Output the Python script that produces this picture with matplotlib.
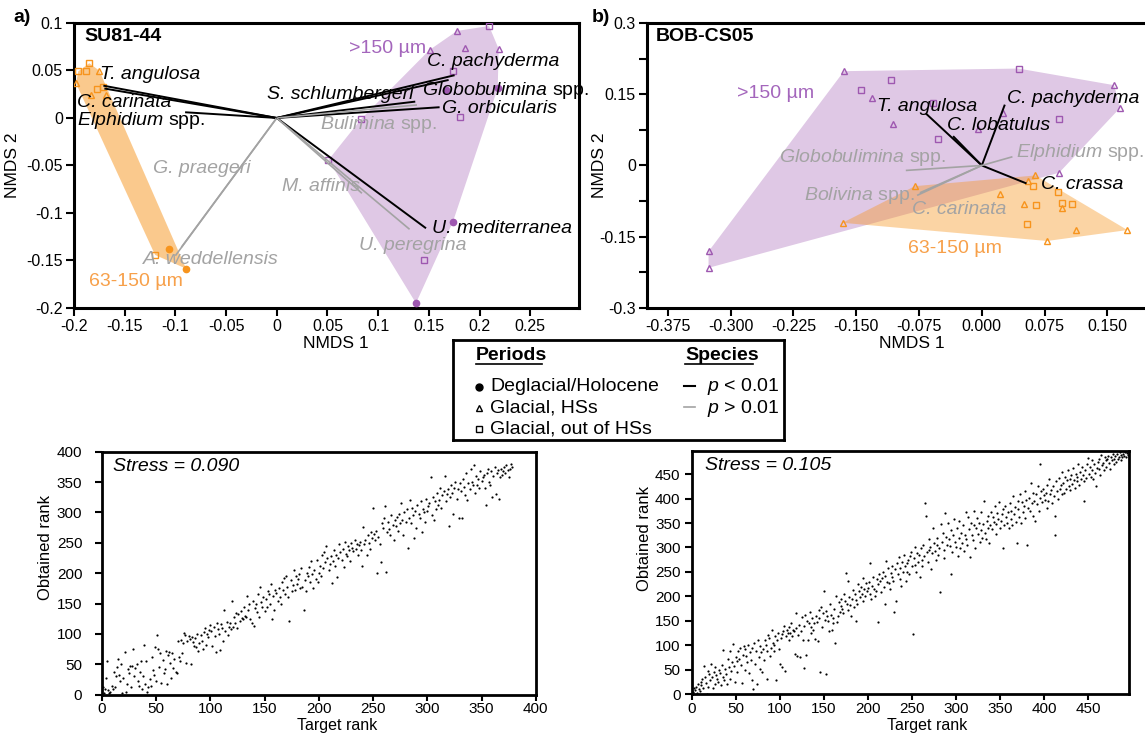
import numpy as np
import matplotlib
matplotlib.use("Agg")
import matplotlib.pyplot as plt

plt.rcParams["font.family"] = ["Liberation Sans", "DejaVu Sans"]
plt.rcParams["mathtext.fontset"] = "custom"
plt.rcParams["mathtext.rm"] = "Liberation Sans"
plt.rcParams["mathtext.it"] = "Liberation Sans:italic"
plt.rcParams["mathtext.bf"] = "Liberation Sans:bold"

ORANGE = "#F7941D"
PURPLE = "#9E58B0"
GREY = "#A3A3A3"

# ---------------- SU81-44 site scores ----------------
# 63-150 um fraction
su_small_hol_x = [-0.1059, -0.0894]
su_small_hol_y = [-0.1382, -0.1586]
su_small_hs_x = [-0.175, -0.198, -0.1835, -0.1684]
su_small_hs_y = [0.0498, 0.0365, 0.0242, 0.0242]
su_small_out_x = [-0.1849, -0.1957, -0.1882, -0.1776, -0.1711, -0.12]
su_small_out_y = [0.0576, 0.0491, 0.0491, 0.0302, 0.0323, -0.1442]
# >150 um fraction
su_large_hol_x = [0.167, 0.2179, 0.1738, 0.1373]
su_large_hol_y = [0.0295, 0.0313, -0.1091, -0.195]
su_large_hs_x = [0.1778, 0.1507, 0.186, 0.2189]
su_large_hs_y = [0.0916, 0.0716, 0.074, 0.0726]
su_large_out_x = [0.2094, 0.1738, 0.181, 0.0833, 0.051, 0.1448]
su_large_out_y = [0.0968, 0.0495, 0.0014, -0.001, -0.0442, -0.150]

# SU81-44 species vectors
su_species = ["T. angulosa", "C. carinata", "Elphidium spp.", "G. praegeri",
              "A. weddellensis", "S. schlumbergeri", "C. pachyderma",
              "Globobulimina spp.", "G. orbicularis", "Bulimina spp.",
              "M. affinis", "U. mediterranea", "U. peregrina"]
su_spec_x = [-0.171, -0.170, -0.0904, -0.094, -0.100, 0.1366, 0.1754,
             0.1695, 0.1606, 0.1383, 0.084, 0.1472, 0.131]
su_spec_y = [0.034, 0.031, 0.006, -0.136, -0.145, 0.0172, 0.045,
             0.040, 0.0113, 0.0137, -0.0793, -0.1161, -0.1172]
su_spec_sig = [1, 1, 1, 0, 0, 1, 1, 1, 1, 0, 0, 1, 0]

# ---------------- BOB-CS05 site scores ----------------
bob_small_hs_x = [-0.080, -0.1664, 0.0215, 0.0641, 0.0553, 0.050, 0.0959,
                  0.1123, 0.174, 0.078]
bob_small_hs_y = [-0.0436, -0.1207, -0.0596, -0.021, -0.033, -0.082, -0.089,
                  -0.136, -0.136, -0.159]
bob_small_out_x = [0.0613, 0.0911, 0.0645, 0.0959, 0.1083, 0.0546]
bob_small_out_y = [-0.0436, -0.056, -0.0835, -0.0786, -0.082, -0.124]
bob_large_hs_x = [-0.1647, -0.1315, -0.1057, -0.0045, 0.0256, 0.0923,
                  0.158, 0.1654, -0.3265, -0.3265]
bob_large_hs_y = [0.1985, 0.1425, 0.0878, 0.0773, 0.1095, -0.0154,
                  0.169, 0.1215, -0.181, -0.2155]
bob_large_out_x = [-0.109, -0.144, -0.0583, -0.0518, 0.044, 0.0923]
bob_large_out_y = [0.179, 0.1586, 0.132, 0.0562, 0.204, 0.0968]

bob_species = ["T. angulosa", "C. lobatulus", "C. pachyderma", "C. crassa",
               "Elphidium spp.", "Globobulimina spp.", "Bolivina spp.",
               "C. carinata"]
bob_spec_x = [-0.0669, -0.0343, 0.0275, 0.0534, 0.0366, -0.0908, -0.0773, -0.074]
bob_spec_y = [0.1095, 0.0617, 0.128, -0.0379, 0.0183, -0.0105, -0.063, -0.0575]
bob_spec_sig = [1, 1, 1, 1, 0, 0, 0, 0]

# ---------------- Shepard diagrams (obtained rank per target rank) ----------------
su_obtained = [
    12, 3, 10, 28, 55, 8, 2, 5, 14, 9,
    38, 12, 30, 45, 58, 32, 22, 50, 3, 28,
    70, 5, 18, 42, 36, 47, 12, 48, 75, 30,
    44, 50, 22, 15, 38, 55, 9, 30, 82, 18,
    55, 5, 12, 25, 15, 62, 40, 33, 78, 22,
    98, 75, 45, 68, 20, 57, 35, 42, 72, 18,
    65, 70, 52, 27, 68, 44, 58, 38, 35, 88,
    62, 55, 90, 68, 85, 102, 98, 52, 88, 96,
    92, 51, 95, 86, 80, 93, 78, 100, 72, 85,
    98, 88, 75, 103, 110, 82, 100, 95, 107, 115,
    104, 80, 112, 96, 70, 118, 108, 100, 74, 117,
    110, 88, 140, 105, 120, 98, 112, 118, 108, 155,
    112, 128, 118, 135, 110, 132, 122, 138, 127, 125,
    145, 130, 128, 162, 140, 150, 125, 118, 155, 113,
    142, 150, 136, 165, 128, 178, 152, 145, 160, 138,
    158, 145, 170, 165, 150, 182, 124, 162, 140, 172,
    168, 155, 176, 160, 150, 185, 172, 192, 165, 195,
    178, 160, 122, 188, 170, 180, 205, 172, 195, 182,
    190, 198, 175, 208, 178, 139, 188, 170, 200, 195,
    210, 185, 220, 198, 175, 205, 190, 222, 186, 200,
    212, 195, 230, 208, 235, 218, 245, 225, 205, 215,
    228, 183, 220, 238, 212, 230, 193, 225, 248, 235,
    222, 240, 210, 252, 232, 228, 245, 238, 220, 250,
    242, 236, 255, 240, 248, 230, 246, 252, 238, 212,
    276, 248, 255, 230, 262, 250, 240, 268, 258, 308,
    265, 255, 270, 200, 260, 248, 218, 282, 275, 290,
    311, 202, 268, 285, 272, 262, 296, 280, 255, 288,
    278, 292, 270, 298, 283, 315, 288, 262, 300, 285,
    305, 242, 290, 320, 282, 308, 295, 258, 302, 275,
    312, 298, 290, 318, 268, 305, 300, 285, 322, 302,
    310, 315, 358, 296, 325, 288, 318, 305, 332, 312,
    320, 340, 308, 328, 335, 360, 318, 330, 338, 278,
    325, 345, 332, 298, 340, 350, 322, 338, 290, 348,
    335, 290, 355, 342, 328, 365, 320, 348, 338, 372,
    350, 345, 378, 332, 360, 345, 355, 340, 368, 352,
    358, 362, 340, 313, 365, 372, 350, 345, 368, 325,
    360, 375, 330, 365, 370, 322, 358, 372, 362, 368,
    375, 365, 378, 370, 358, 372, 380, 375,
]
bob_obtained = [
    5, 2, 12, 8, 15, 3, 20, 10, 6, 25,
    18, 30, 12, 58, 35, 22, 1, 48, 15, 40,
    28, 62, 35, 12, 45, 20, 55, 38, 30, 25,
    50, 42, 18, 60, 35, 90, 28, 52, 40, 20,
    72, 55, 88, 30, 48, 65, 102, 58, 25, 75,
    68, 45, 88, 72, 95, 60, 22, 80, 98, 50,
    92, 78, 65, 100, 42, 85, 70, 95, 28, 10,
    105, 62, 88, 20, 110, 75, 52, 98, 85, 45,
    92, 70, 110, 100, 30, 88, 120, 115, 78, 95,
    130, 105, 100, 88, 118, 28, 110, 125, 92, 62,
    115, 122, 55, 128, 140, 48, 118, 132, 125, 110,
    138, 125, 145, 118, 130, 128, 82, 135, 165, 78,
    120, 142, 75, 128, 158, 110, 140, 54, 162, 80,
    150, 110, 145, 168, 125, 138, 155, 130, 145, 112,
    160, 148, 108, 172, 155, 45, 178, 138, 165, 210,
    152, 40, 170, 160, 150, 128, 185, 162, 130, 155,
    145, 175, 105, 200, 148, 160, 188, 168, 195, 180,
    175, 165, 205, 190, 248, 185, 172, 232, 198, 182,
    160, 195, 212, 178, 205, 150, 192, 185, 225, 210,
    198, 220, 205, 190, 238, 215, 200, 228, 210, 218,
    230, 268, 205, 195, 222, 240, 215, 200, 210, 235,
    225, 148, 245, 232, 208, 238, 250, 220, 185, 242,
    272, 230, 258, 228, 215, 248, 262, 240, 232, 168,
    255, 190, 268, 245, 280, 235, 258, 222, 270, 250,
    285, 262, 232, 268, 250, 275, 245, 282, 290, 262,
    122, 278, 300, 265, 250, 288, 270, 285, 240, 298,
    275, 262, 305, 282, 390, 365, 290, 270, 318, 295,
    300, 255, 288, 340, 310, 292, 275, 320, 305, 285,
    298, 208, 348, 312, 330, 295, 278, 370, 322, 305,
    350, 318, 302, 245, 335, 290, 325, 358, 312, 300,
    340, 282, 320, 355, 298, 330, 310, 345, 292, 325,
    372, 318, 305, 362, 338, 280, 350, 325, 315, 345,
    375, 298, 340, 360, 328, 350, 312, 372, 335, 320,
    348, 395, 330, 318, 355, 340, 365, 310, 345, 372,
    338, 362, 352, 385, 328, 348, 370, 358, 392, 340,
    355, 368, 298, 378, 345, 385, 362, 350, 372, 340,
    390, 358, 375, 345, 405, 368, 382, 352, 310, 395,
    378, 362, 410, 350, 392, 372, 385, 360, 415, 398,
    305, 380, 402, 375, 432, 390, 365, 412, 395, 355,
    410, 388, 425, 375, 402, 470, 415, 392, 420, 408,
    398, 412, 380, 428, 395, 440, 410, 418, 390, 425,
    405, 365, 325, 435, 415, 400, 442, 420, 428, 410,
    455, 432, 412, 445, 420, 438, 458, 425, 440, 418,
    448, 430, 462, 438, 422, 450, 435, 445, 470, 428,
    455, 440, 465, 448, 435, 395, 458, 442, 470, 483,
    450, 465, 445, 478, 458, 440, 470, 452, 425, 462,
    475, 460, 482, 448, 490, 468, 472, 458, 485, 478,
    465, 480, 488, 472, 460, 485, 478, 492, 470, 482,
    488, 475, 492, 480, 485, 495, 478, 490, 486, 492,
    488, 495, 485, 493, 490,
]

# label placement (left edge, vertical centre) in data units
su_label_pos = [(-0.1743, 0.0453), (-0.1974, 0.0161), (-0.1967, -0.0028),
                (-0.1217, -0.053), (-0.1316, -0.1495), (-0.0095, 0.0242),
                (0.1481, 0.0593), (0.1432, 0.0288), (0.163, 0.0102),
                (0.0428, -0.0074), (0.005, -0.0723), (0.1531, -0.1161),
                (0.0813, -0.1347)]
bob_label_pos = [(-0.1258, 0.1249), (-0.0414, 0.0842), (0.0307, 0.1404),
                 (0.0705, -0.040), (0.0414, 0.0267), (-0.242, 0.0162),
                 (-0.213, -0.063), (-0.0832, -0.0926)]


def hull(x, y):
    pts = sorted(set(zip(x, y)))

    def cross(o, a, b):
        return (a[0] - o[0]) * (b[1] - o[1]) - (a[1] - o[1]) * (b[0] - o[0])

    lower, upper = [], []
    for p in pts:
        while len(lower) >= 2 and cross(lower[-2], lower[-1], p) <= 0:
            lower.pop()
        lower.append(p)
    for p in reversed(pts):
        while len(upper) >= 2 and cross(upper[-2], upper[-1], p) <= 0:
            upper.pop()
        upper.append(p)
    return np.array(lower[:-1] + upper[:-1])


def species_text(name):
    if name.endswith(" spp."):
        return r"$\it{%s}$ spp." % name[:-5], "normal"
    return name, "italic"


def nmds(ax, groups, names, sx, sy, sig, pos):
    for color, alpha, z, xs, ys in groups:
        h = hull(sum(xs, []), sum(ys, []))
        ax.fill(h[:, 0], h[:, 1], color=color, alpha=alpha, lw=0, zorder=z)
        for mk, px, py in zip(["o", "^", "s"], xs, ys):
            if not px:
                continue
            if mk == "o":
                ax.plot(px, py, "o", ms=4.5, color=color, mec=color, zorder=3)
            else:
                ax.plot(px, py, mk, ms=5 if mk == "^" else 4.5, mfc="none",
                        mec=color, mew=1, zorder=3)
    for n, x, y, s, (lx, ly) in zip(names, sx, sy, sig, pos):
        c = "black" if s else GREY
        ax.plot([0, x], [0, y], color=c, lw=1.4 if s else 1.2, zorder=4,
                solid_capstyle="butt")
        t, st = species_text(n)
        ax.text(lx, ly, t, color=c, fontsize=14, style=st, ha="left",
                va="center", zorder=5)


def frame(ax, lw=2.2):
    for s in ax.spines.values():
        s.set_linewidth(lw)


fig = plt.figure(figsize=(11.45, 7.38), dpi=100)

# ---------- panel a ----------
axa = fig.add_axes([0.0646, 0.5827, 0.4410, 0.3862])
nmds(axa,
     [(PURPLE, 0.33, 1, [su_large_hol_x, su_large_hs_x, su_large_out_x],
       [su_large_hol_y, su_large_hs_y, su_large_out_y]),
      (ORANGE, 0.5, 1.5, [su_small_hol_x, su_small_hs_x, su_small_out_x],
       [su_small_hol_y, su_small_hs_y, su_small_out_y])],
     su_species, su_spec_x, su_spec_y, su_spec_sig, su_label_pos)
axa.set_xlim(-0.2, 0.298)
axa.set_ylim(-0.2, 0.1)
xt = [-0.2, -0.15, -0.1, -0.05, 0, 0.05, 0.1, 0.15, 0.2, 0.25]
axa.set_xticks(xt)
axa.set_xticklabels(["-0.2", "-0.15", "-0.1", "-0.05", "0", "0.05", "0.1",
                     "0.15", "0.2", "0.25"])
yt = [-0.2, -0.15, -0.1, -0.05, 0, 0.05, 0.1]
axa.set_yticks(yt)
axa.set_yticklabels(["-0.2", "-0.15", "-0.1", "-0.05", "0", "0.05", "0.1"])
axa.tick_params(labelsize=11.5, length=6, width=1.5, pad=2)
axa.set_xlabel("NMDS 1", fontsize=12.5)
axa.set_ylabel("NMDS 2", fontsize=12.5)
axa.xaxis.set_label_coords(0.519, -0.098)
axa.yaxis.set_label_coords(-0.107, 0.5)
axa.text(0.02, 0.954, "SU81-44", transform=axa.transAxes, fontsize=14,
         fontweight="bold", va="center")
axa.text(0.0708, 0.0733, ">150 µm", color="#A466BC", fontsize=14, va="center")
axa.text(-0.1849, -0.1723, "63-150 µm", color="#F7A04A", fontsize=14, va="center")
frame(axa)

# ---------- panel b ----------
axb = fig.add_axes([0.5651, 0.5827, 0.4751, 0.3862])
nmds(axb,
     [(PURPLE, 0.33, 1, [[], bob_large_hs_x, bob_large_out_x],
       [[], bob_large_hs_y, bob_large_out_y]),
      (ORANGE, 0.4, 1.5, [[], bob_small_hs_x, bob_small_out_x],
       [[], bob_small_hs_y, bob_small_out_y])],
     bob_species, bob_spec_x, bob_spec_y, bob_spec_sig, bob_label_pos)
axb.set_xlim(-0.4, 0.25)
axb.set_ylim(-0.3, 0.3)
xb = [-0.375, -0.3, -0.225, -0.15, -0.075, 0, 0.075, 0.15]
axb.set_xticks(xb)
axb.set_xticklabels(["-0.375", "-0.300", "-0.225", "-0.150", "-0.075",
                     "0.000", "0.075", "0.150"])
axb.set_yticks([-0.3, -0.15, 0, 0.15, 0.3])
axb.set_yticklabels(["-0.3", "-0.15", "0", "0.15", "0.3"])
axb.set_yticks([-0.225, -0.075, 0.075, 0.225], minor=True)
axb.tick_params(which="both", labelsize=11.5, length=6, width=1.5, pad=2)
axb.set_xlabel("NMDS 1", fontsize=12.5)
axb.set_ylabel("NMDS 2", fontsize=12.5)
axb.xaxis.set_label_coords(0.487, -0.098)
axb.yaxis.set_label_coords(-0.0735, 0.5)
axb.text(0.016, 0.954, "BOB-CS05", transform=axb.transAxes, fontsize=14,
         fontweight="bold", va="center")
axb.text(-0.2928, 0.1516, ">150 µm", color="#A466BC", fontsize=14, va="center")
axb.text(-0.0885, -0.1754, "63-150 µm", color="#F7A04A", fontsize=14, va="center")
frame(axb)

fig.text(13 / 1145, 1 - 17 / 738, "a)", fontsize=14, fontweight="bold",
         va="center")
fig.text(592 / 1145, 1 - 17 / 738, "b)", fontsize=14, fontweight="bold",
         va="center")

# ---------- legend box ----------
axl = fig.add_axes([0.3956, 0.4038, 0.2891, 0.1355])
axl.set_xlim(0, 1)
axl.set_ylim(0, 1)
axl.set_xticks([])
axl.set_yticks([])
frame(axl, 2)
axl.text(0.0695, 0.84, "Periods", fontsize=14, fontweight="bold", va="center")
axl.plot([0.0695, 0.269], [0.76, 0.76], color="black", lw=1.2)
axl.text(0.7009, 0.84, "Species", fontsize=14, fontweight="bold", va="center")
axl.plot([0.7009, 0.906], [0.76, 0.76], color="black", lw=1.2)
period_names = ["Deglacial/Holocene", "Glacial, HSs", "Glacial, out of HSs"]
period_markers = ["o", "^", "s"]
for yy, nm, mk in zip([0.533, 0.317, 0.107], period_names, period_markers):
    if mk == "o":
        axl.plot(0.0785, yy, "o", ms=5, color="black")
    else:
        axl.plot(0.0785, yy, mk, ms=5, mfc="none", mec="black", mew=1)
    axl.text(0.1118, yy, nm, fontsize=14, va="center")
axl.plot([0.698, 0.731], [0.543, 0.543], color="black", lw=1.5)
axl.plot([0.698, 0.731], [0.333, 0.333], color=GREY, lw=1.2)
axl.text(0.768, 0.533, r"$\it{p}$ < 0.01", fontsize=14, va="center")
axl.text(0.768, 0.317, r"$\it{p}$ > 0.01", fontsize=14, va="center")

# ---------- Shepard diagrams ----------
axc = fig.add_axes([0.0889, 0.0587, 0.3790, 0.3293])
axc.scatter(np.arange(1, len(su_obtained) + 1), su_obtained, s=2.5,
            color="black", lw=0)
axc.set_xlim(0, 400)
axc.set_ylim(0, 400)
axc.set_xticks(range(0, 401, 50))
axc.set_yticks(range(0, 401, 50))
axc.tick_params(labelsize=11, length=4, width=1.5, pad=1.5)
axc.tick_params(axis="y", length=5, pad=9)
axc.set_xlabel("Target rank", fontsize=11.5)
axc.set_ylabel("Obtained rank", fontsize=12)
axc.xaxis.set_label_coords(0.543, -0.098)
axc.yaxis.set_label_coords(-0.112, 0.607)
axc.text(0.0247, 0.939, "Stress = 0.090", transform=axc.transAxes,
         fontsize=14, style="italic", va="center")
frame(axc, 2)

axd = fig.add_axes([0.6041, 0.0596, 0.3815, 0.3297])
axd.scatter(np.arange(1, len(bob_obtained) + 1), bob_obtained, s=2.5,
            color="black", lw=0)
axd.set_xlim(0, 496)
axd.set_ylim(0, 498)
axd.set_xticks(range(0, 451, 50))
axd.set_yticks(range(0, 451, 50))
axd.tick_params(labelsize=11, length=4, width=1.5, pad=1.5)
axd.tick_params(axis="y", length=5, pad=3)
axd.set_xlabel("Target rank", fontsize=11.5)
axd.set_ylabel("Obtained rank", fontsize=12)
axd.xaxis.set_label_coords(0.538, -0.098)
axd.yaxis.set_label_coords(-0.091, 0.64)
axd.text(0.031, 0.938, "Stress = 0.105", transform=axd.transAxes,
         fontsize=14, style="italic", va="center")
frame(axd, 2)

fig.savefig("out.png", dpi=100)
